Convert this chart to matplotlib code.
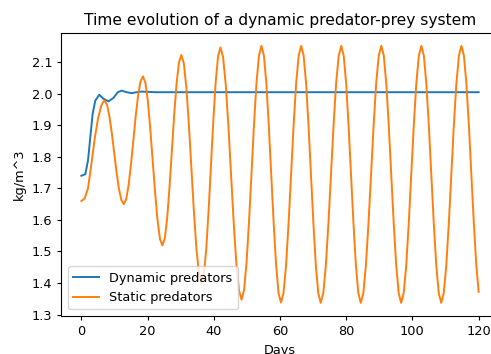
import matplotlib
matplotlib.use("Agg")
import matplotlib.pyplot as plt

# values
dyn_days = [0, 1.2, 2.0, 2.7, 3.4, 4.2, 5.4, 6.7, 8.2, 9.7, 11.0, 12.2, 13.7,
            15.2, 16.7, 18.2, 22.3, 40, 60, 80, 100, 120]
dyn_vals = [1.740, 1.745, 1.788, 1.862, 1.936, 1.978, 1.997, 1.984, 1.976,
            1.987, 2.005, 2.010, 2.005, 2.002, 2.005, 2.007, 2.005, 2.005,
            2.005, 2.005, 2.005, 2.005]

stat_days = [
    0, 1, 2, 3, 4, 5, 6, 6.5, 7.0,
    7.73, 8.45, 9.18, 9.9, 10.63, 11.35, 12.08, 12.8,
    13.53, 14.25, 14.98, 15.7, 16.43, 17.15, 17.88, 18.6,
    19.34, 20.08, 20.81, 21.55, 22.29, 23.03, 23.76, 24.5,
    25.21, 25.93, 26.64, 27.35, 28.06, 28.78, 29.49, 30.2,
    30.96, 31.73, 32.49, 33.25, 34.01, 34.78, 35.54, 36.3,
    37.01, 37.73, 38.44, 39.15, 39.86, 40.58, 41.29, 42.0,
    42.8, 43.6, 44.4, 45.2, 46.0, 46.8, 47.6, 48.4,
    49.15, 49.9, 50.65, 51.4, 52.15, 52.9, 53.65, 54.4,
    55.14, 55.88, 56.61, 57.35, 58.09, 58.83, 59.56, 60.3,
    61.06, 61.83, 62.59, 63.35, 64.11, 64.88, 65.64, 66.4,
    67.14, 67.88, 68.61, 69.35, 70.09, 70.83, 71.56, 72.3,
    73.08, 73.85, 74.63, 75.4, 76.18, 76.95, 77.73, 78.5,
    79.24, 79.98, 80.71, 81.45, 82.19, 82.93, 83.66, 84.4,
    85.18, 85.95, 86.73, 87.5, 88.28, 89.05, 89.83, 90.6,
    91.35, 92.1, 92.85, 93.6, 94.35, 95.1, 95.85, 96.6,
    97.36, 98.13, 98.89, 99.65, 100.41, 101.18, 101.94, 102.7,
    103.45, 104.2, 104.95, 105.7, 106.45, 107.2, 107.95, 108.7,
    109.46, 110.23, 110.99, 111.75, 112.51, 113.28, 114.04, 114.8,
    115.55, 116.3, 117.05, 117.8, 118.55, 119.3, 120.0,
]
stat_vals = [
    1.660, 1.668, 1.700, 1.775, 1.855, 1.920, 1.962, 1.973, 1.978,
    1.966, 1.930, 1.877, 1.814, 1.751, 1.698, 1.663, 1.650,
    1.665, 1.709, 1.775, 1.853, 1.930, 1.996, 2.040, 2.055,
    2.035, 1.977, 1.889, 1.787, 1.685, 1.597, 1.539, 1.519,
    1.542, 1.607, 1.706, 1.821, 1.936, 2.035, 2.100, 2.123,
    2.096, 2.017, 1.900, 1.762, 1.623, 1.506, 1.428, 1.400,
    1.428, 1.509, 1.631, 1.774, 1.916, 2.038, 2.119, 2.147,
    2.117, 2.030, 1.900, 1.747, 1.594, 1.464, 1.377, 1.347,
    1.378, 1.465, 1.596, 1.750, 1.903, 2.035, 2.121, 2.152,
    2.121, 2.033, 1.900, 1.745, 1.589, 1.456, 1.368, 1.338,
    1.368, 1.456, 1.589, 1.745, 1.900, 2.033, 2.121, 2.152,
    2.121, 2.033, 1.900, 1.745, 1.589, 1.456, 1.368, 1.337,
    1.368, 1.456, 1.589, 1.745, 1.900, 2.033, 2.121, 2.152,
    2.121, 2.033, 1.900, 1.745, 1.589, 1.456, 1.368, 1.337,
    1.368, 1.456, 1.589, 1.745, 1.900, 2.033, 2.121, 2.152,
    2.121, 2.033, 1.900, 1.745, 1.589, 1.456, 1.368, 1.337,
    1.368, 1.456, 1.589, 1.745, 1.900, 2.033, 2.121, 2.152,
    2.121, 2.033, 1.900, 1.745, 1.589, 1.456, 1.368, 1.337,
    1.368, 1.456, 1.589, 1.745, 1.900, 2.033, 2.121, 2.152,
    2.121, 2.033, 1.900, 1.745, 1.589, 1.456, 1.372,
]

plt.rcParams["font.size"] = 9.3
plt.rcParams["lines.linewidth"] = 1.4
plt.rcParams["xtick.major.size"] = 3.2
plt.rcParams["ytick.major.size"] = 3.2

fig = plt.figure(figsize=(4.91, 3.54), dpi=100)
ax = fig.add_axes([61.5 / 491, 38.3 / 354, 437 / 491, 282.7 / 354])

ax.plot(dyn_days, dyn_vals, label="Dynamic predators")
ax.plot(stat_days, stat_vals, label="Static predators")

ax.set_title("Time evolution of a dynamic predator-prey system", fontsize=11.2)
ax.set_xlabel("Days")
ax.set_ylabel("kg/m^3")
ax.legend(loc="lower left")

fig.savefig("out.png", dpi=100)
